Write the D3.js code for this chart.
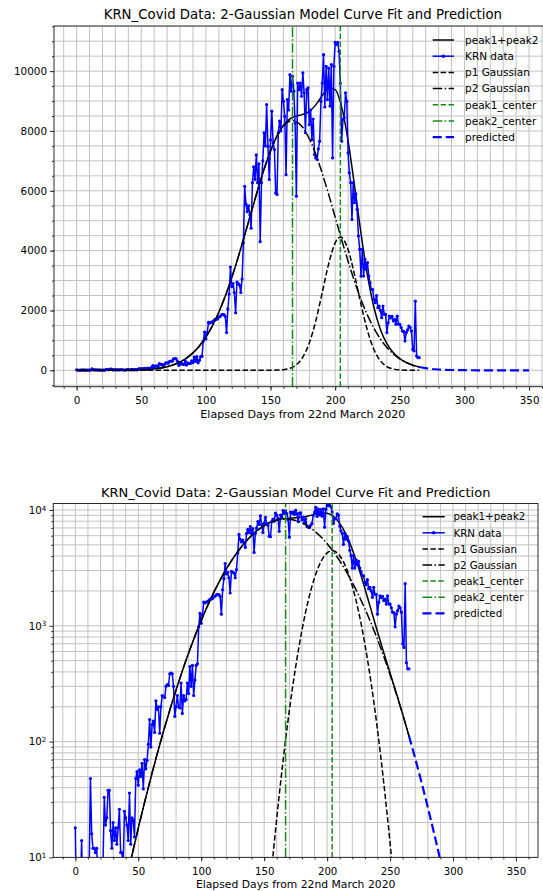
<!DOCTYPE html>
<html>
<head>
<meta charset="utf-8">
<script src="https://cdn.jsdelivr.net/npm/d3@7/dist/d3.min.js"></script>
<style>
html,body{margin:0;padding:0;background:#fff;}
svg{display:block;}
text{font-family:"DejaVu Sans","Liberation Sans",sans-serif;fill:#000;}
</style>
</head>
<body>
<svg id="chart" width="543" height="891"></svg>
<script>
// ---------------- DATA ----------------
const firstDay = 0;
const krnData = [18,3,2,4,5,14,4,6,3,7,
5,8,48,16,12,12,11,12,6,5,
8,4,9,33,19,22,38,38,17,12,
20,14,18,13,18,26,11,11,8,25,
22,19,14,36,13,22,21,15,48,55,
42,57,50,65,39,70,58,69,95,155,
90,140,150,120,225,190,200,118,200,250,
245,240,300,310,305,385,390,385,300,165,
200,250,200,195,320,175,250,225,230,320,
260,445,300,455,250,340,455,470,980,1280,
1050,1250,1600,1580,1600,1620,1650,1700,1700,1720,
1780,1800,1850,1870,1860,1800,1260,2050,2550,3450,
2800,2900,2600,1920,2950,2900,2850,2600,3050,4260,
6150,5550,5300,5500,5200,4750,6270,6800,6380,7200,
6270,6900,4300,6270,7000,7940,7500,8880,7490,6380,
7700,8660,7600,7380,5930,5880,7940,8330,8000,9380,
8990,8490,6540,9050,8700,9880,9330,9830,9330,8270,
5820,9600,9380,9600,9160,9940,9270,7940,9380,9440,
8210,8700,7710,8400,7210,7100,7050,7400,7660,8990,
9600,10550,8800,10160,9050,10100,8830,10220,7100,10160,
10960,10890,10960,10660,9600,7660,8380,8440,9270,8990,
7270,6600,6270,5040,6270,5600,5900,5380,4490,4040,
3150,4040,3150,3710,3370,3600,3150,2930,2700,2700,
2370,2260,2500,2090,2150,2000,1760,2150,1870,1870,
1260,1590,1810,1750,1800,1650,1700,1540,1810,1540,
1540,1430,1310,1300,980,1260,1350,1480,1430,1310,
700,650,2310,480,425,425];

const modelDays = [0,5,10,15,20,25,30,35,40,45,50,55,60,65,70,75,80,85,90,95,
100,105,110,115,120,125,130,135,140,145,150,155,160,165,167,170,175,180,185,190,
195,200,204,205,210,215,220,225,230,235,240,245,250,255,260,265];
const p1Gaussian = [0,0,0,0,0,0,0,0,0,0,0,0,0,0,0,0,0,0,0,0,
0,0,0,0,0,0,0,0,0.058,0.31,1.48,6.08,21.8,68.2,103.5,185.8,441.5,914.5,1651,2597,
3563,4259,4450,4438,4032,3192,2202,1325,694.8,317.6,126.5,43.9,13.3,3.51,0.81,0.16];
const p2Gaussian = [0.0304,0.0637,0.130,0.261,0.510,0.977,1.83,3.34,5.98,10.45,17.87,29.9,48.9,78.1,122.1,186.7,279.0,407.7,582.8,814.0,
1112.6,1486.5,1941.6,2479.9,3097,3782,4515,5272,6019,6720,7333,7826,8168,8335,8350,8316,8113,7738,7220,6584,
5872,5121,4516,4366,3640,2968,2365,1844,1405,1047,763,543,378.6,257.9,171.8,111.9];
const peakSum = [0.0304,0.0637,0.130,0.261,0.510,0.977,1.83,3.34,5.98,10.45,17.87,29.9,48.9,78.1,122.1,186.7,279.0,407.7,582.8,814.0,
1112.6,1486.5,1941.6,2479.9,3097,3782,4515,5272,6019.1,6720.3,7334.5,7832.1,8189.8,8403.2,8453.5,8501.8,8554.5,8652.5,8871,9181,
9435,9380,8966,8804,7672,6160,4567,3169,2099.8,1364.6,889.5,586.9,391.9,261.4,172.6,112.1];
const predDays = [265,270,275,280,285,290,295,300,305,310,315,320,325,330,335,340,345,350];
const predicted = [112.1,71.3,44.4,27.0,16.08,9.36,5.33,2.97,1.61,0.86,0.447,0.227,0.113,0.055,0.0262,0.0122,0.0055,0.0025];
const peakCenters = [204, 167];   // peak1_center, peak2_center

const xTickValues = [0,50,100,150,200,250,300,350];
const yTickValuesLinear = [0,2000,4000,6000,8000,10000];
const yTickValuesLog = [10,100,1000,10000];
const legendLabels = ["peak1+peak2","KRN data","p1 Gaussian","p2 Gaussian","peak1_center","peak2_center","predicted"];
const titleText = "KRN_Covid Data: 2-Gaussian Model Curve Fit and Prediction";
const xLabelText = "Elapsed Days from 22nd March 2020";

// ---------------- DRAWING ----------------
const svg = d3.select("#chart");
const defs = svg.append("defs");
const BLUE = "#0000ff", GREEN = "#138a13", GRID = "#c2c2c2", SPINE = "#2a2a2a";
const DASH = "5.5,2.4", DASHDOT = "9.6,2.4,1.5,2.4", PREDDASH = "9,4";

const dataPts = krnData.map((v, i) => ({d: firstDay + i, v}));
const toPts = arr => modelDays.map((d, i) => ({d, v: arr[i]}));
const predPts = predDays.map((d, i) => ({d, v: predicted[i]}));

const styles = [
  {stroke: "#000", w: 1.5, dash: null},
  {stroke: BLUE, w: 1.5, dash: null, marker: true},
  {stroke: "#000", w: 1.5, dash: DASH},
  {stroke: "#000", w: 1.5, dash: DASHDOT},
  {stroke: GREEN, w: 1.5, dash: DASH},
  {stroke: GREEN, w: 1.5, dash: DASHDOT},
  {stroke: BLUE, w: 2.2, dash: PREDDASH}
];

function drawPanel(o) {
  const {id, x, y, log, box, fs} = o;
  const g = svg.append("g");
  defs.append("clipPath").attr("id", "clip" + id).append("rect")
    .attr("x", box.l).attr("y", box.t).attr("width", box.r - box.l).attr("height", box.b - box.t);

  // grid (major + minor)
  const xGrid = d3.range(-10, 361, 10);
  let yGrid;
  if (log) { yGrid = []; [10, 100, 1000, 10000].forEach(p => { for (let m = 1; m <= 9; m++) if (m * p <= y.domain()[1]) yGrid.push(m * p); }); }
  else yGrid = d3.range(-500, 11501, 500);
  const gg = g.append("g").attr("clip-path", `url(#clip${id})`);
  gg.selectAll(".vg").data(xGrid).join("line")
    .attr("x1", d => x(d)).attr("x2", d => x(d)).attr("y1", box.t).attr("y2", box.b)
    .attr("stroke", GRID).attr("stroke-width", 1);
  gg.selectAll(".hg").data(yGrid).join("line")
    .attr("y1", d => y(d)).attr("y2", d => y(d)).attr("x1", box.l).attr("x2", box.r)
    .attr("stroke", GRID).attr("stroke-width", 1);

  // plot lines
  const pg = g.append("g").attr("clip-path", `url(#clip${id})`);
  const ok = d => !log || d.v > 0;
  const smooth = d3.line().defined(ok).x(d => x(d.d)).y(d => y(d.v)).curve(d3.curveMonotoneX);
  const straight = d3.line().defined(ok).x(d => x(d.d)).y(d => y(d.v));
  const addPath = (pts, gen, st) => pg.append("path").datum(pts).attr("d", gen)
    .attr("fill", "none").attr("stroke", st.stroke).attr("stroke-width", st.w)
    .attr("stroke-dasharray", st.dash).attr("stroke-linejoin", "round");

  addPath(toPts(peakSum), smooth, styles[0]);
  addPath(dataPts, straight, styles[1]);
  pg.selectAll(".mk").data(dataPts.filter(ok)).join("circle")
    .attr("cx", d => x(d.d)).attr("cy", d => y(d.v)).attr("r", 1.6).attr("fill", BLUE);
  addPath(toPts(p1Gaussian), smooth, styles[2]);
  addPath(toPts(p2Gaussian), smooth, styles[3]);
  peakCenters.forEach((c, i) => {
    const st = styles[4 + i];
    pg.append("line").attr("x1", x(c)).attr("x2", x(c)).attr("y1", box.b).attr("y2", box.t)
      .attr("stroke", st.stroke).attr("stroke-width", st.w).attr("stroke-dasharray", st.dash);
  });
  addPath(predPts, smooth, styles[6]);

  // spines
  g.append("rect").attr("x", box.l).attr("y", box.t).attr("width", box.r - box.l).attr("height", box.b - box.t)
    .attr("fill", "none").attr("stroke", SPINE).attr("stroke-width", 1);

  // axes
  const styleAxis = sel => { sel.select(".domain").remove(); sel.selectAll(".tick line").attr("stroke", SPINE); };
  const xMinorAx = g.append("g").attr("transform", `translate(0,${box.b})`)
    .call(d3.axisBottom(x).tickValues(xGrid).tickSize(2).tickFormat(""));
  styleAxis(xMinorAx);
  const xAx = g.append("g").attr("transform", `translate(0,${box.b})`)
    .call(d3.axisBottom(x).tickValues(xTickValues).tickSize(4).tickPadding(o.xPad));
  styleAxis(xAx);
  xAx.selectAll("text").attr("font-size", fs.tick).attr("font-family", "DejaVu Sans").attr("fill", "#000");

  let yMinorVals = log ? yGrid.filter(v => !yTickValuesLog.includes(v)) : yGrid;
  const yMinorAx = g.append("g").attr("transform", `translate(${box.l},0)`)
    .call(d3.axisLeft(y).tickValues(yMinorVals).tickSize(2).tickFormat(""));
  styleAxis(yMinorAx);
  const yAx = g.append("g").attr("transform", `translate(${box.l},0)`)
    .call(d3.axisLeft(y).tickValues(log ? yTickValuesLog : yTickValuesLinear).tickSize(4).tickPadding(3)
      .tickFormat(log ? (() => "") : d3.format("d")));
  styleAxis(yAx);
  yAx.selectAll("text").attr("font-size", fs.tick).attr("font-family", "DejaVu Sans").attr("fill", "#000");
  if (log) {
    yAx.selectAll(".tick text").each(function(d) {
      const t = d3.select(this);
      t.text("10");
      t.append("tspan").attr("dy", "-0.45em").attr("font-size", fs.tick * 0.7).text(Math.round(Math.log10(d)));
    });
  }

  // title and x label
  const cx = (box.l + box.r) / 2;
  g.append("text").attr("x", cx).attr("y", o.titleY).attr("text-anchor", "middle")
    .attr("font-size", fs.title).text(titleText);
  g.append("text").attr("x", cx).attr("y", o.xlabelY).attr("text-anchor", "middle")
    .attr("font-size", fs.label).text(xLabelText);

  // legend
  const lg = g.append("g");
  legendLabels.forEach((lab, i) => {
    const st = styles[i];
    const yy = o.leg.y0 + i * o.leg.dy;
    lg.append("line").attr("x1", o.leg.x1).attr("x2", o.leg.x2).attr("y1", yy).attr("y2", yy)
      .attr("stroke", st.stroke).attr("stroke-width", st.w).attr("stroke-dasharray", st.dash);
    if (st.marker) lg.append("circle").attr("cx", (o.leg.x1 + o.leg.x2) / 2).attr("cy", yy).attr("r", 1.8).attr("fill", BLUE);
    lg.append("text").attr("x", o.leg.tx).attr("y", yy).attr("dy", "0.36em")
      .attr("font-size", fs.legend).text(lab);
  });
}

// Top: linear panel
const boxTop = {l: 54, r: 551.7, t: 26, b: 386.7};
drawPanel({
  id: "top", log: false, box: boxTop,
  x: d3.scaleLinear().domain([-17.5, 367.5]).range([boxTop.l, boxTop.r]),
  y: d3.scaleLinear().domain([-548, 11508]).range([boxTop.b, boxTop.t]),
  fs: {tick: 10.4, title: 13.3, label: 11.1, legend: 10.5},
  xPad: 6.4, titleY: 18.6, xlabelY: 418.4,
  leg: {x1: 432.7, x2: 454, tx: 465, y0: 40, dy: 16.2}
});

// Bottom: log panel
const boxBot = {l: 53.3, r: 538, t: 503.5, b: 857.4};
drawPanel({
  id: "bot", log: true, box: boxBot,
  x: d3.scaleLinear().domain([-17.5, 367.5]).range([boxBot.l, boxBot.r]),
  y: d3.scaleLog().domain([10, 11378]).range([boxBot.b, boxBot.t]),
  fs: {tick: 10.2, title: 13.0, label: 10.8, legend: 10.3},
  xPad: 6.2, titleY: 497.2, xlabelY: 888,
  leg: {x1: 422.5, x2: 444.8, tx: 453.4, y0: 516.7, dy: 16.1}
});
</script>
</body>
</html>
